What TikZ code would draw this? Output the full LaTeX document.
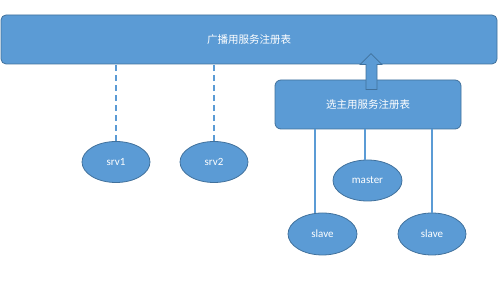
\documentclass[tikz,border=0pt]{standalone}
\usepackage{fontspec}
\setmainfont{Carlito}
\newfontfamily\cjk{Noto Sans CJK SC}
\usetikzlibrary{positioning,calc,shapes.geometric}
\definecolor{boxblue}{HTML}{5B9BD5}
\definecolor{edgeblue}{HTML}{41719C}

\begin{document}
\begin{tikzpicture}[
  x=1pt,y=-1pt,
  font=\fontsize{11}{13}\selectfont,
  rbox/.style ={draw=edgeblue,line width=0.8pt,fill=boxblue,text=white,
                inner sep=0pt,font=\cjk\fontsize{10.5}{12}\selectfont},
  snode/.style={ellipse,draw=edgeblue,line width=0.8pt,fill=boxblue,
                text=white,inner sep=0pt,minimum width=68pt,minimum height=41pt},
  dline/.style={draw=boxblue,line width=1.6pt,dash pattern=on 6pt off 4pt},
  sline/.style={draw=boxblue,line width=1.7pt},
  barrow/.style={draw=edgeblue,line width=0.8pt,fill=boxblue,line join=miter},
]
\useasboundingbox (0,0) rectangle (499,283);

% ===================== broadcast registry (top bar) ======================
\node[rbox,rounded corners=5pt,minimum width=496pt,minimum height=49pt]
  (bcast) at (249,39.5) {广播用服务注册表};

% ----- plain servers hanging off the bar (dashed) ------------------------
\node[snode] (srv1) at (116,162) {srv1};
\node[snode] (srv2) at (214,162) {srv2};

\draw[dline] (srv1.north) -- (srv1.north |- bcast.south);
\draw[dline] (srv2.north) -- (srv2.north |- bcast.south);

% ===================== elected-master registry ===========================
\node[rbox,rounded corners=6pt,minimum width=186pt,minimum height=49pt]
  (elect) at (368,104.5) {选主用服务注册表};

\node[snode,minimum width=69pt] (master) at (367.5,180.5) {master};
\node[snode,minimum width=69pt,minimum height=42pt] (slave1) at (322.5,234) {slave};
\node[snode,minimum height=42pt] (slave2) at (432,234) {slave};

\draw[sline] (master.96) -- (master.96 |- elect.south);
\draw[sline] (slave1.110) -- (slave1.110 |- elect.south);
\draw[sline] (slave2.north) -- (slave2.north |- elect.south);

% Block arrow: elected registry reports up to the broadcast bar.
\draw[barrow] ($(elect.north)+(-2,10)$) -- ++(0,-25) -- ++(-6,0)
  -- ++(11,-11) -- ++(11,11) -- ++(-5,0) -- ++(0,25) -- cycle;

\end{tikzpicture}
\end{document}
